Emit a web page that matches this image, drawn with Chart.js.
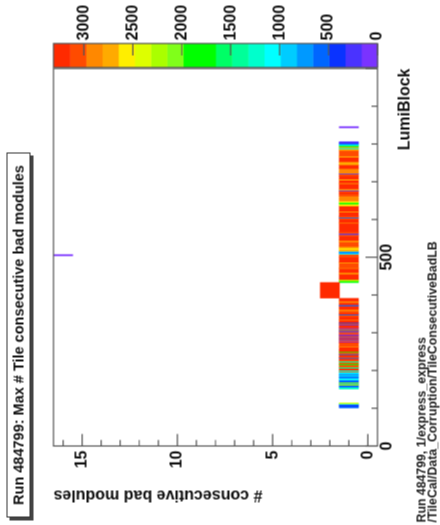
<!DOCTYPE html>
<html>
<head>
<meta charset="utf-8">
<script src="https://cdn.jsdelivr.net/npm/chart.js@4/dist/chart.umd.min.js"></script>
<style>
html, body { margin: 0; padding: 0; background: #fff; overflow: hidden; }
body { width: 440px; height: 525px; position: relative; }
/* the ROOT pad is drawn upright and then turned a quarter turn, like the reference */
#pad { position: absolute; left: -42.5px; top: 42.5px; width: 525px; height: 440px; transform: rotate(-90deg); }
#pad canvas { position: absolute; left: 0; top: 0; }
.ptitle { position: absolute; left: 8px; top: 6px; width: 365px; height: 24px; box-sizing: border-box;
  border: 1px solid #333; background: #fff; box-shadow: -3px 3px 0 #444;
  font: bold 14.5px "Liberation Sans", Arial, sans-serif; line-height: 22px; text-align: center; color: #111; white-space: nowrap; }
.info { position: absolute; left: 3px; font: bold 12.3px "Liberation Sans", Arial, sans-serif; color: #222; white-space: nowrap; line-height: 12px; }
</style>
</head>
<body>
<div id="pad">
  <canvas id="lbChart" width="525" height="440"></canvas>
  <div class="ptitle">Run 484799: Max # Tile consecutive bad modules</div>
  <div class="info" style="top:415px">Run 484799, 1/express_express</div>
  <div class="info" style="top:426px">/TileCal/Data_Corruption/TileConsecutiveBadLB</div>
</div>
<script>
// axis ranges and tick labels
const LB_MIN = 0, LB_MAX = 1000;
const NBAD_MIN = -0.5, NBAD_MAX = 16.5;
const Z_MAX = 3310;
const lbTickLabels = [0, 500];
const nBadTickLabels = [0, 5, 10, 15];
const zTickLabels = [0, 500, 1000, 1500, 2000, 2500, 3000];

// nBad = 1 row : LB bin edges and event counts between them (null = empty)
const stripEdges = [151,156,161,164,166,169,175,180,184,188,192,196,198,201,206,209,215,218,222,225,228,232,234,236,242,244,248,250,255,262,264,273,276,278,281,283,286,288,291,293,295,297,300,302,304,306,308,311,313,316,320,322,325,327,333,335,343,347,349,353,358,362,367,371,374,380,384,391,433,437,441,455,460,470,472,485,487,500,508,511,514,516,521,525,529,540,545,556,560,563,567,590,592,601,604,606,609,620,622,636,641,645,649,655,662,668,673,676,678,681,695,697,705,707,716,720,722,727,735,745,753,765,768,783,787,790,793,796,799,802,806];
const stripCounts = [1250,600,2300,700,2000,650,1000,550,900,700,1150,3100,1300,3150,1400,3000,1700,3100,1350,3050,3150,550,3000,3200,600,3050,1800,3150,3200,2850,3100,3200,150,3100,200,3200,250,3050,180,3200,120,3050,3100,220,3200,700,3000,160,3150,3200,200,3050,400,3200,2850,3150,3100,500,3200,3050,2850,3200,3150,550,3200,2900,3150,null,1850,2300,3150,2850,3200,2850,3100,2800,3200,3050,1100,550,900,2700,2550,2900,3100,2850,3150,3000,200,3100,3150,2850,3200,3100,500,3050,3200,2700,3150,2550,1900,2500,2850,2900,3100,3200,3100,180,2800,3200,2800,3150,2500,3200,3100,250,2900,2850,3150,2800,3200,2700,3100,2800,1300,2650,1800,1100,600,250];

// the other filled cells
const cellFrom  = [101, 105, 110, 112, 392, 843, 504];
const cellTo    = [105, 110, 112, 114, 433, 846, 507];
const cellNBad  = [1, 1, 1, 1, 2, 1, 16];
const cellCount = [600, 450, 1100, 2400, 3200, 60, 30];

// 20-step ROOT rainbow, low -> high
const palette = ['#7a33ff','#4a33ff','#0a33ff','#0066ff','#0099ff','#00ccff','#00ffff','#00ffcc','#00ff99','#00ff66',
                 '#00ff00','#00ff00','#80ff1a','#aaff00','#ddff00','#ffee00','#ffaa00','#ff8800','#ff4b00','#ff2a00'];

function colz(v) {
  const i = Math.floor(v / (Z_MAX / palette.length));
  return palette[Math.max(0, Math.min(palette.length - 1, i))];
}

const cells = [];
stripCounts.forEach((c, i) => {
  if (c !== null) cells.push({ x: [stripEdges[i], stripEdges[i + 1]], y: 1, z: c });
});
cellFrom.forEach((f, i) => cells.push({ x: [f, cellTo[i]], y: cellNBad[i], z: cellCount[i] }));

const FONT = { family: '"Liberation Sans", Arial, sans-serif', size: 16, weight: 'bold' };
const INK = '#111';

// frame, inside ticks and the colour palette box
const rootPad = {
  id: 'rootPad',
  afterDraw(chart) {
    const { ctx, chartArea: a, scales: { x, y, z } } = chart;
    ctx.save();
    const step = Z_MAX / palette.length;
    const p0 = a.right + 1, p1 = a.right + 25;
    palette.forEach((col, i) => {
      const t = z.getPixelForValue((i + 1) * step), b = z.getPixelForValue(i * step);
      ctx.fillStyle = col;
      ctx.fillRect(p0, t, p1 - p0, b - t + 0.5);
    });
    ctx.strokeStyle = '#555';
    ctx.lineWidth = 1.2;
    ctx.strokeRect(p0, z.top, p1 - p0, z.bottom - z.top);
    ctx.beginPath();
    zTickLabels.forEach(v => {
      const py = z.getPixelForValue(v);
      ctx.moveTo(p1, py); ctx.lineTo(p1 - 12, py);
    });
    ctx.stroke();

    ctx.strokeRect(a.left, a.top, a.right - a.left, a.bottom - a.top);
    ctx.beginPath();
    for (let v = LB_MIN; v <= LB_MAX; v += 100) {
      const px = x.getPixelForValue(v), len = v % 500 === 0 ? 12 : 6;
      ctx.moveTo(px, a.bottom); ctx.lineTo(px, a.bottom - len);
    }
    for (let v = 0; v <= NBAD_MAX; v += 1) {
      const py = y.getPixelForValue(v), len = v % 5 === 0 ? 12 : 6;
      ctx.moveTo(a.left, py); ctx.lineTo(a.left + len, py);
    }
    ctx.stroke();
    ctx.restore();
  }
};

new Chart(document.getElementById('lbChart'), {
  type: 'bar',
  data: {
    datasets: [{
      data: cells,
      backgroundColor: c => colz(c.raw.z),
      borderWidth: 0,
      barPercentage: 1,
      categoryPercentage: 1
    }]
  },
  options: {
    indexAxis: 'y',
    responsive: false,
    animation: false,
    events: [],
    layout: { padding: { top: 53, left: 0, right: 0, bottom: 0 } },
    plugins: { legend: { display: false }, tooltip: { enabled: false } },
    scales: {
      x: {
        type: 'linear', min: LB_MIN, max: LB_MAX, position: 'bottom',
        afterBuildTicks: s => { s.ticks = lbTickLabels.map(v => ({ value: v })); },
        afterFit: s => { s.height = 63; },
        grid: { display: false, drawTicks: false }, border: { display: false },
        ticks: { padding: 0, font: FONT, color: INK, maxRotation: 0, autoSkip: false, callback: v => String(v) },
        title: { display: true, text: 'LumiBlock', align: 'end', font: FONT, color: INK, padding: { top: 0, bottom: 26 } }
      },
      y: {
        type: 'linear', min: NBAD_MIN, max: NBAD_MAX, offset: false,
        afterBuildTicks: s => { s.ticks = nBadTickLabels.map(v => ({ value: v })); },
        afterFit: s => { s.width = 79.5; },
        grid: { display: false, drawTicks: false }, border: { display: false },
        ticks: { padding: 4.5, font: FONT, color: INK, autoSkip: false, callback: v => String(v) },
        title: { display: true, text: '# consecutive bad modules', align: 'end', font: FONT, color: INK, padding: { top: 21, bottom: 0 } }
      },
      z: {
        type: 'linear', position: 'right', min: 0, max: Z_MAX, offset: false,
        afterBuildTicks: s => { s.ticks = zTickLabels.map(v => ({ value: v })); },
        afterFit: s => { s.width = 68; },
        grid: { display: false, drawTicks: false, offset: false }, border: { display: false },
        ticks: { padding: 28, font: FONT, color: INK, autoSkip: false, callback: v => String(v) }
      }
    }
  },
  plugins: [rootPad]
});
</script>
</body>
</html>
